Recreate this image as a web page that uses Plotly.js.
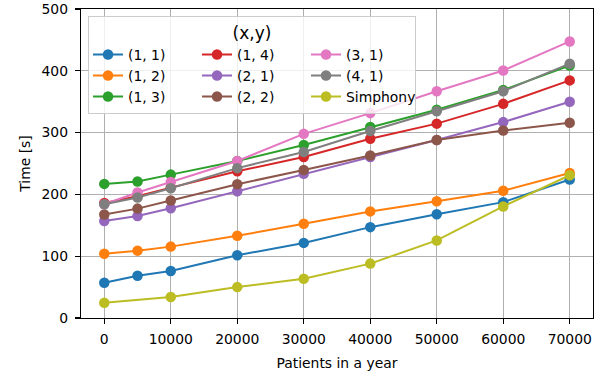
<!DOCTYPE html>
<html>
<head>
<meta charset="utf-8">
<script src="https://cdn.plot.ly/plotly-3.0.1.min.js"></script>
<style>html,body{margin:0;padding:0;background:#fff;}#chart{width:608px;height:377px;}</style>
</head>
<body>
<div id="chart"></div>
<script>
const patients = [0, 5000, 10000, 20000, 30000, 40000, 50000, 60000, 70000];
const patientsSimphony = [0, 10000, 20000, 30000, 40000, 50000, 60000, 70000];

const s11 = [57, 68.5, 76, 101.5, 121.5, 147, 168, 187.5, 224];
const s12 = [104, 109, 115.5, 133, 152.5, 172.5, 189, 206, 234.5];
const s13 = [217, 221, 232, 254, 280, 309, 337, 369, 408.5];
const s14 = [186, 197, 211, 237.5, 260.5, 290, 314.5, 346.5, 384.5];
const s21 = [157, 165, 177.5, 205, 233.5, 260.5, 288, 317, 350];
const s22 = [167.5, 177, 190, 216.5, 239.5, 263, 288, 303.5, 316];
const s31 = [184, 203, 220, 254, 298, 331.5, 367, 400.5, 447.5];
const s41 = [184, 195, 210, 242.5, 268.5, 302.5, 334.5, 367, 411.5];
const simphony = [24.5, 34, 50, 63.5, 88, 125.5, 180.5, 231];

const names = ["(1, 1)", "(1, 2)", "(1, 3)", "(1, 4)", "(2, 1)", "(2, 2)", "(3, 1)", "(4, 1)", "Simphony"];
const colors = ["#1f77b4", "#ff7f0e", "#2ca02c", "#d62728", "#9467bd", "#8c564b", "#e377c2", "#7f7f7f", "#bcbd22"];
const groups = ["c1", "c1", "c1", "c2", "c2", "c2", "c3", "c3", "c3"];

const series = [s11, s12, s13, s14, s21, s22, s31, s41, simphony];
const xs = [patients, patients, patients, patients, patients, patients, patients, patients, patientsSimphony];

const FONT = "DejaVu Sans, sans-serif";
const traces = series.map((ys, i) => ({
  type: "scatter",
  mode: "lines+markers",
  x: xs[i],
  y: ys,
  name: names[i],
  legendgroup: groups[i],
  line: {color: colors[i], width: 2},
  marker: {color: colors[i], size: 10.5}
}));

const axisCommon = {
  showline: true, mirror: true, linecolor: "#000", linewidth: 1.2,
  ticks: "outside", ticklen: 5, tickwidth: 1.2, tickcolor: "#000",
  showgrid: true, gridcolor: "#b0b0b0", gridwidth: 1,
  zeroline: false, automargin: false,
  tickfont: {family: FONT, size: 13.9, color: "#000"}
};

const layout = {
  width: 608, height: 377,
  margin: {l: 81, r: 15, t: 9, b: 59, autoexpand: false},
  paper_bgcolor: "#fff", plot_bgcolor: "#fff",
  font: {family: FONT, size: 13.9, color: "#000"},
  xaxis: Object.assign({}, axisCommon, {
    range: [-3500, 73500],
    tickvals: [0, 10000, 20000, 30000, 40000, 50000, 60000, 70000],
    ticktext: ["0", "10000", "20000", "30000", "40000", "50000", "60000", "70000"],
    ticklabelstandoff: 3,
    title: {text: "Patients in a year", font: {family: FONT, size: 13.9}, standoff: 12}
  }),
  yaxis: Object.assign({}, axisCommon, {
    range: [0, 500],
    tickvals: [0, 100, 200, 300, 400, 500],
    ticklabelstandoff: 4,
    title: {text: "Time [s]", font: {family: FONT, size: 13.9}, standoff: 7}
  }),
  legend: {
    orientation: "h",
    x: 0.0137, xanchor: "left",
    y: 0.978, yanchor: "top",
    entrywidth: 64, entrywidthmode: "pixels",
    tracegroupgap: 0,
    bgcolor: "rgba(255,255,255,0.8)",
    bordercolor: "#cccccc", borderwidth: 1,
    font: {family: FONT, size: 13.9, color: "#000"},
    title: {text: "(x,y)", side: "top center", font: {family: FONT, size: 17}},
    traceorder: "grouped"
  },
  showlegend: true
};

Plotly.newPlot("chart", traces, layout, {staticPlot: true, displayModeBar: false});
</script>
</body>
</html>
